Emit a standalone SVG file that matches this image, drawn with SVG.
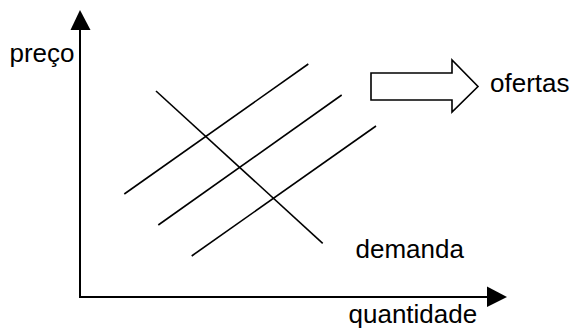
<svg xmlns="http://www.w3.org/2000/svg" width="574" height="329" viewBox="0 0 574 329">
<style>
text{font-family:"Liberation Sans",Arial,sans-serif;font-size:26px;fill:#000}
.ln{stroke:#000;stroke-width:1.6;fill:none}
.ax{stroke:#000;stroke-width:2;fill:none}
</style>
<rect width="574" height="329" fill="#fff"/>
<g id="axes">
<path class="ax" d="M80,28 V297 H489"/>
<polygon points="80,10 70.5,30 90.5,30" fill="#000"/>
<polygon points="507,297 487,286.5 487,307" fill="#000"/>
</g>
<g id="curves">
<line class="ln" x1="124.3" y1="194" x2="308.3" y2="64"/>
<line class="ln" x1="158.3" y1="225" x2="341.7" y2="95"/>
<line class="ln" x1="191.7" y1="256" x2="376" y2="126"/>
<line class="ln" x1="156" y1="91" x2="322.7" y2="243.3"/>
</g>
<g id="shift-arrow">
<polygon class="ln" points="371,73 452,73 452,60 478,86.5 452,112 452,100 371,100"/>
</g>
<g id="labels">
<text x="9.5" y="62">preço</text>
<text x="490" y="92">ofertas</text>
<text x="355.5" y="258">demanda</text>
<text x="348.5" y="323">quantidade</text>
</g>
</svg>
